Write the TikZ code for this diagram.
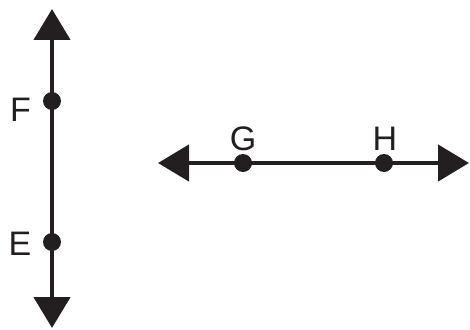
\documentclass[tikz,border=0pt]{standalone}
\usepackage{fontspec}
\setmainfont{Liberation Sans}
\usetikzlibrary{arrows.meta}
\definecolor{ink}{HTML}{231F20}
\begin{document}
\begin{tikzpicture}[x=1pt,y=-1pt,
  lineseg/.style={line width=4.6pt,draw=ink,{Triangle[length=31pt,width=36pt]}-{Triangle[length=31pt,width=36pt]}},
  pt/.style={circle,fill=ink,inner sep=0pt,minimum size=18pt},
  lbl/.style={inner sep=0pt,text=ink,font=\fontsize{34}{34}\selectfont}]
\useasboundingbox (0,0) rectangle (470,329);
\coordinate (vtop) at (52,9);
\coordinate (vbot) at (52,328);
\coordinate (hl) at (158,163);
\coordinate (hr) at (469,163);
\draw[lineseg] (vbot) -- (vtop);
\draw[lineseg] (hl) -- (hr);
\node[pt] (F) at (52,101) {};
\node[pt] (E) at (52,242) {};
\node[pt] (G) at (243,163) {};
\node[pt] (H) at (384,163) {};
\node[lbl] (Fl) at (20.5,109.5) {F};
\node[lbl] (El) at (20,243.5) {E};
\node[lbl] (Gl) at (243,139) {G};
\node[lbl] (Hl) at (385,139) {H};
\end{tikzpicture}
\end{document}
